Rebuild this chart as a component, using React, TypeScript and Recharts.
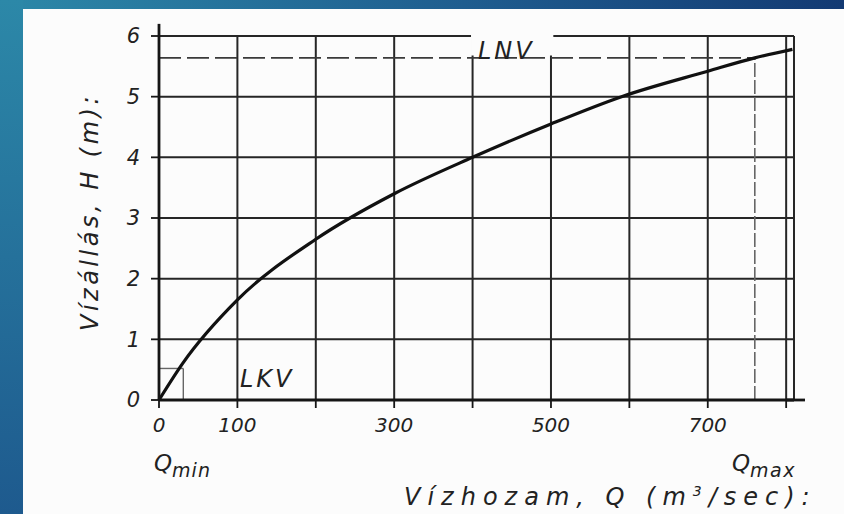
import React from "react";
import {
  CartesianGrid,
  Line,
  LineChart,
  ReferenceArea,
  ReferenceLine,
  XAxis,
  YAxis,
} from "recharts";

// Vízhozam-görbe (rating curve): Q (m3/sec) vs H (m)
const flowQ = [0, 30, 100, 200, 300, 400, 500, 590, 700, 760, 808];
const stageH = [0, 0.6, 1.65, 2.65, 3.4, 4.0, 4.55, 5.0, 5.42, 5.64, 5.78];

const xTicks = [0, 100, 200, 300, 400, 500, 600, 700, 800];
const xTickLabels = [0, 100, 300, 500, 700];
const yTicks = [0, 1, 2, 3, 4, 5, 6];

const lnv = 5.64; // legnagyobb vízállás
const lkv = 0.52; // legkisebb vízállás
const qMax = 760;
const qMin = 31;

const data = flowQ.map((q, i) => ({ q, h: stageH[i] }));

const font = "'DejaVu Sans', sans-serif";
const ink = "#151515";

const overlay = (left: number, top: number, size: number): React.CSSProperties => ({
  position: "absolute",
  left,
  top,
  fontFamily: font,
  fontStyle: "italic",
  fontSize: size,
  color: "#222",
  whiteSpace: "nowrap",
  lineHeight: 1,
});

export default function App() {
  return (
    <div
      style={{
        position: "relative",
        width: 844,
        height: 514,
        overflow: "hidden",
        background: "linear-gradient(to right, #2c88a8 0%, #1f5d8f 55%, #133a73 100%)",
      }}
    >
      <style>{`body{margin:0}`}</style>
      <div
        style={{
          position: "absolute",
          left: 0,
          top: 0,
          width: 23,
          height: 514,
          background: "linear-gradient(to bottom, #2c88a8, #1e5a8e)",
        }}
      />
      <div
        style={{
          position: "absolute",
          left: 23,
          top: 9,
          width: 821,
          height: 505,
          background: "#fcfcfc",
        }}
      />
      <div style={{ position: "absolute", left: 0, top: 0 }}>
        <LineChart
          width={844}
          height={514}
          data={data}
          margin={{ top: 36, right: 50, bottom: 74, left: 100 }}
        >
          <CartesianGrid stroke="#262626" strokeWidth={2} />
          <XAxis
            dataKey="q"
            type="number"
            domain={[0, 810]}
            ticks={xTicks}
            tickFormatter={(v) => (xTickLabels.includes(v) ? String(v) : "")}
            height={40}
            tickSize={8}
            tickMargin={10}
            axisLine={{ stroke: ink, strokeWidth: 2.8 }}
            tickLine={{ stroke: ink, strokeWidth: 1.8 }}
            tick={{ fill: "#222", fontSize: 20, fontStyle: "italic", fontFamily: font }}
          />
          <YAxis
            dataKey="h"
            type="number"
            domain={[0, 6]}
            ticks={yTicks}
            width={59}
            tickSize={8}
            tickMargin={11}
            axisLine={{ stroke: ink, strokeWidth: 2.8 }}
            tickLine={{ stroke: ink, strokeWidth: 1.8 }}
            tick={{ fill: "#222", fontSize: 21, fontStyle: "italic", fontFamily: font }}
          />
          <ReferenceArea
            x1={398}
            x2={503}
            y1={lnv + 0.04}
            y2={6.05}
            fill="#fcfcfc"
            fillOpacity={1}
            stroke="none"
            ifOverflow="visible"
          />
          <ReferenceLine
            segment={[{ x: 0, y: lnv }, { x: qMax, y: lnv }]}
            stroke="#3a3a3a"
            strokeWidth={1.8}
            strokeDasharray="22 6"
          />
          <ReferenceLine
            segment={[{ x: qMax, y: 0 }, { x: qMax, y: lnv }]}
            stroke="#666"
            strokeWidth={1.6}
            strokeDasharray="14 3"
          />
          <ReferenceLine
            segment={[{ x: 0, y: lkv }, { x: qMin, y: lkv }]}
            stroke="#666"
            strokeWidth={1.4}
          />
          <ReferenceLine
            segment={[{ x: qMin, y: 0 }, { x: qMin, y: lkv }]}
            stroke="#666"
            strokeWidth={1.4}
          />
          <ReferenceLine
            segment={[{ x: 0, y: 6 }, { x: 0, y: 6.2 }]}
            stroke={ink}
            strokeWidth={2.8}
            ifOverflow="visible"
          />
          <ReferenceLine
            segment={[{ x: 800, y: 0 }, { x: 824, y: 0 }]}
            stroke={ink}
            strokeWidth={2.8}
            ifOverflow="visible"
          />
          <Line
            type="monotone"
            dataKey="h"
            stroke="#111"
            strokeWidth={3.2}
            dot={false}
            isAnimationActive={false}
          />
        </LineChart>
      </div>
      <div style={{ ...overlay(478, 39, 24), letterSpacing: 3 }}>LNV</div>
      <div style={{ ...overlay(240, 367, 24), letterSpacing: 3 }}>LKV</div>
      <div style={overlay(154, 452, 23)}>
        Q<span style={{ fontSize: 19, position: "relative", top: 6, letterSpacing: 1 }}>min</span>
      </div>
      <div style={overlay(732, 452, 23)}>
        Q<span style={{ fontSize: 19, position: "relative", top: 6, letterSpacing: 1.5 }}>max</span>
      </div>
      <div style={{ ...overlay(404, 484, 24), letterSpacing: 7 }}>
        Vízhozam, Q (m<sup style={{ fontSize: 14 }}>3</sup>/sec):
      </div>
      <div
        style={{
          ...overlay(-70, 200, 24),
          width: 320,
          textAlign: "center",
          letterSpacing: 3.5,
          transform: "rotate(-90deg)",
        }}
      >
        Vízállás, H (m):
      </div>
    </div>
  );
}
